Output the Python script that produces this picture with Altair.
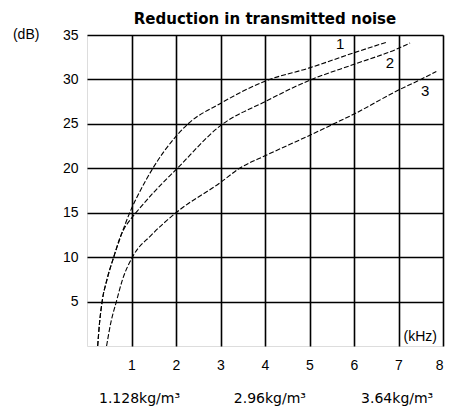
import altair as alt
import pandas as pd

# Curve 1
c1_khz = [0.24, 0.28, 0.34, 0.45, 0.60, 0.77, 0.96, 1.20, 1.48, 2.00, 2.27, 3.00, 4.00, 5.00, 6.00, 6.74]
c1_db = [0, 2.5, 5, 7.5, 10, 12.5, 15, 17.5, 20, 23.6, 25, 27.3, 29.8, 31.3, 33.0, 34.2]
# Curve 2
c2_khz = [0.24, 0.28, 0.34, 0.45, 0.60, 0.75, 1.00, 1.10, 1.50, 2.03, 3.00, 4.00, 5.00, 6.00, 7.00, 7.26]
c2_db = [0, 2.5, 5, 7.5, 10, 12.3, 14.4, 15, 17.3, 20, 24.8, 27.5, 29.9, 31.7, 33.5, 34.1]
# Curve 3
c3_khz = [0.44, 0.53, 0.66, 0.80, 1.02, 1.45, 2.00, 3.00, 3.43, 4.00, 5.00, 5.46, 6.00, 7.00, 7.50, 7.85]
c3_db = [0, 2.5, 5, 7.5, 10, 12.5, 15, 18.4, 20, 21.4, 23.7, 24.8, 26.1, 28.8, 30.0, 30.9]

curve_names = ["1", "2", "3"]
label_khz = [5.69, 6.81, 7.60]
label_db = [34.0, 31.9, 28.7]

x_ticks = [1, 2, 3, 4, 5, 6, 7, 8]
y_ticks = [5, 10, 15, 20, 25, 30, 35]

title_text = ["Reduction in transmitted noise"]
title_khz = [4.0]
title_db = [36.2]

density_text = ["1.128kg/m³", "2.96kg/m³", "3.64kg/m³"]
density_khz = [1.18, 4.11, 6.97]
density_db = [-6.0, -6.0, -6.0]

rows = []
for name, ks, ds in zip(curve_names, [c1_khz, c2_khz, c3_khz], [c1_db, c2_db, c3_db]):
    for i, (k, d) in enumerate(zip(ks, ds)):
        rows.append({"curve": name, "khz": k, "db": d, "i": i})
df = pd.DataFrame(rows)

xs = alt.Scale(domain=[0, 8], nice=False)
ys = alt.Scale(domain=[0, 35], nice=False)

lines = alt.Chart(df).mark_line(
    color="black", strokeWidth=1.1, strokeDash=[5, 2], interpolate="monotone"
).encode(
    x=alt.X("khz:Q", scale=xs,
            axis=alt.Axis(values=x_ticks, grid=True, gridColor="black", gridWidth=1.6,
                          gridOpacity=1, ticks=False, tickSize=0, domain=False,
                          labelPadding=12, labelFontSize=14, labelFont="Liberation Sans",
                          labelColor="black", title=None)),
    y=alt.Y("db:Q", scale=ys,
            axis=alt.Axis(values=y_ticks, grid=True, gridColor="black", gridWidth=1.6,
                          gridOpacity=1, ticks=False, tickSize=0, domain=False,
                          labelPadding=9, labelFontSize=14, labelFont="Liberation Sans",
                          labelColor="black", title=None)),
    detail="curve:N",
    order="i:Q",
)

lab_df = pd.DataFrame({"t": curve_names, "khz": label_khz, "db": label_db})
labels = alt.Chart(lab_df).mark_text(
    font="Liberation Sans", fontSize=15, color="black", align="center", baseline="middle"
).encode(x=alt.X("khz:Q", scale=xs), y=alt.Y("db:Q", scale=ys), text="t:N")

unit_df = pd.DataFrame({"t": ["(kHz)", "(dB)"], "khz": [7.49, -1.07], "db": [1.0, 35.0]})
khz_lab = alt.Chart(unit_df.iloc[[0]]).mark_text(
    font="Liberation Sans", fontSize=14, color="black", align="center", baseline="middle"
).encode(x=alt.X("khz:Q", scale=xs), y=alt.Y("db:Q", scale=ys), text="t:N")
db_lab = alt.Chart(unit_df.iloc[[1]]).mark_text(
    font="Liberation Sans", fontSize=14, color="black", align="right", baseline="middle"
).encode(x=alt.X("khz:Q", scale=xs), y=alt.Y("db:Q", scale=ys), text="t:N")

title_df = pd.DataFrame({"t": title_text, "khz": title_khz, "db": title_db})
title = alt.Chart(title_df).mark_text(
    font="DejaVu Sans", fontSize=15, fontWeight="bold", color="black",
    align="center", baseline="alphabetic"
).encode(x=alt.X("khz:Q", scale=xs), y=alt.Y("db:Q", scale=ys), text="t:N")

dens_df = pd.DataFrame({"t": density_text, "khz": density_khz, "db": density_db})
dens = alt.Chart(dens_df).mark_text(
    font="DejaVu Sans", fontSize=14, color="black", align="center", baseline="middle"
).encode(x=alt.X("khz:Q", scale=xs), y=alt.Y("db:Q", scale=ys), text="t:N")

chart = alt.layer(lines, labels, khz_lab, db_lab, title, dens).properties(
    width=356, height=311,
    autosize=alt.AutoSizeParams(type="none"),
    padding={"left": 79, "top": 27, "right": 5, "bottom": 62},
).configure_view(stroke="black", strokeWidth=1.6).configure(background="white")

chart.save("out.html", embed_options={"renderer": "svg", "actions": False})
